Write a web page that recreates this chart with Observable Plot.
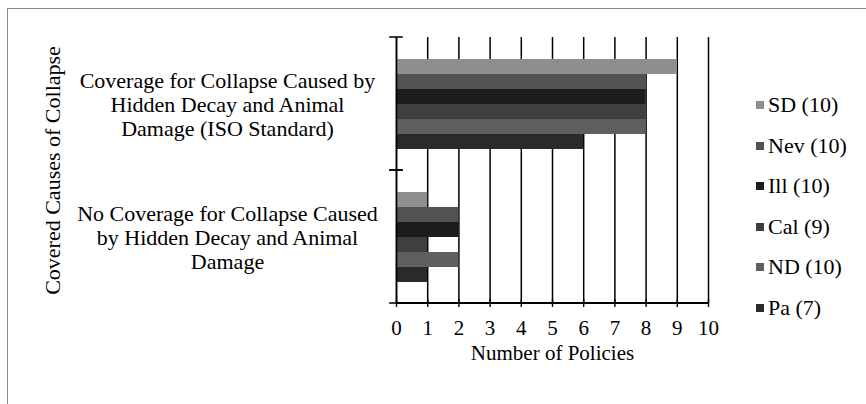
<!DOCTYPE html>
<html><head><meta charset="utf-8">
<script src="https://cdn.jsdelivr.net/npm/d3@7"></script>
<script src="https://cdn.jsdelivr.net/npm/@observablehq/plot@0.6"></script>
<style>
body{margin:0;background:#fff;}
#wrap{position:relative;width:866px;height:404px;overflow:hidden;font-family:"Liberation Serif",Tinos,"Times New Roman","DejaVu Serif",serif;background:#fff;}
#border{position:absolute;left:7px;top:8px;width:900px;height:450px;border:1px solid #8a8a8a;}
#chart{position:absolute;left:0;top:0;}
#legend{position:absolute;left:756px;top:0;}
.item{position:absolute;left:0;display:flex;align-items:center;height:26px;font-size:22px;white-space:nowrap;color:#000;}
.sw{width:8px;height:8px;margin-right:4px;}
</style></head><body>
<div id="wrap"><div id="border"></div><div id="chart"></div><div id="legend"></div></div>
<script>
const categories = ["ISO", "None"];
const categoryLabels = [
  "Coverage for Collapse Caused by\nHidden Decay and Animal\nDamage (ISO Standard)",
  "No Coverage for Collapse Caused\nby Hidden Decay and Animal\nDamage"
];
const series = ["SD", "Nev", "Ill", "Cal", "ND", "Pa"];
const seriesTotals = [10, 10, 10, 9, 10, 7];
const isoValues = [9, 8, 8, 8, 8, 6];
const noneValues = [1, 2, 2, 1, 2, 1];
const xTicks = [0, 1, 2, 3, 4, 5, 6, 7, 8, 9, 10];
const colors = ["#8e8e8e", "#525252", "#1c1c1c", "#3f3f3f", "#5f5f5f", "#2a2a2a"];
const FONT = "'Liberation Serif', Tinos, 'Times New Roman', 'DejaVu Serif', serif";

const rows = [];
series.forEach((s, i) => {
  rows.push({category: categories[0], series: s, value: isoValues[i]});
  rows.push({category: categories[1], series: s, value: noneValues[i]});
});

const W = 866, H = 404, mL = 396, mR = 158, mT = 37, mB = 101;
const plotW = W - mL - mR;
const pxPerUnit = plotW / (xTicks[xTicks.length - 1] - xTicks[0]);
const bandPx = (H - mT - mB) / categories.length;
const tickHalf = 0.22;
const tickPx = 2 * tickHalf * pxPerUnit;

const plot = Plot.plot({
  width: W, height: H,
  marginLeft: mL, marginRight: mR, marginTop: mT, marginBottom: mB,
  style: {fontFamily: FONT, fontSize: "22px", color: "#000", background: "transparent", overflow: "visible"},
  x: {domain: [xTicks[0], xTicks[xTicks.length - 1]], ticks: xTicks},
  y: {domain: series, paddingInner: 0, paddingOuter: 1.43, axis: null},
  fy: {domain: categories, padding: 0},
  color: {domain: series, range: colors},
  marks: [
    Plot.gridX(xTicks, {stroke: "#000", strokeOpacity: 1, strokeWidth: 1.5}),
    Plot.barX(rows, {fy: "category", y: "series", x: "value", fill: "series", inset: 0}),
    Plot.ruleX([xTicks[0]], {stroke: "#000", strokeWidth: 1.6}),
    Plot.barX([0], {x1: -tickHalf, x2: tickHalf, fill: "none", stroke: "#000", strokeWidth: 1.6,
      strokeDasharray: `${tickPx},${bandPx}`}),
    Plot.barX([categories[categories.length - 1]], {fy: d => d, x1: xTicks[0], x2: xTicks[xTicks.length - 1],
      fill: "none", stroke: "#000", strokeWidth: 1.8,
      strokeDasharray: `0,${plotW + bandPx},${plotW},${bandPx}`}),
    Plot.axisX(xTicks, {tickSize: 8, dy: -4, text: null, label: null, strokeWidth: 1.4}),
    Plot.axisX(xTicks, {tickSize: 0, tickPadding: 17, fontSize: 21, label: "Number of Policies",
      labelAnchor: "center", labelOffset: 56, labelArrow: "none"}),
    Plot.axisFy({anchor: "left", tickSize: 0, tickPadding: 169, textAnchor: "middle", lineHeight: 1.1,
      tickFormat: d => categoryLabels[categories.indexOf(d)],
      label: "Covered Causes of Collapse", labelAnchor: "center", labelOffset: 352, labelArrow: "none"})
  ]
});
document.getElementById("chart").appendChild(plot);

const legend = document.getElementById("legend");
series.forEach((s, i) => {
  const item = document.createElement("div");
  item.className = "item";
  item.style.top = (105 - 13 + i * 40.6) + "px";
  const sw = document.createElement("span");
  sw.className = "sw";
  sw.style.background = colors[i];
  const t = document.createElement("span");
  t.textContent = `${s} (${seriesTotals[i]})`;
  item.appendChild(sw); item.appendChild(t);
  legend.appendChild(item);
});
</script>
</body></html>
